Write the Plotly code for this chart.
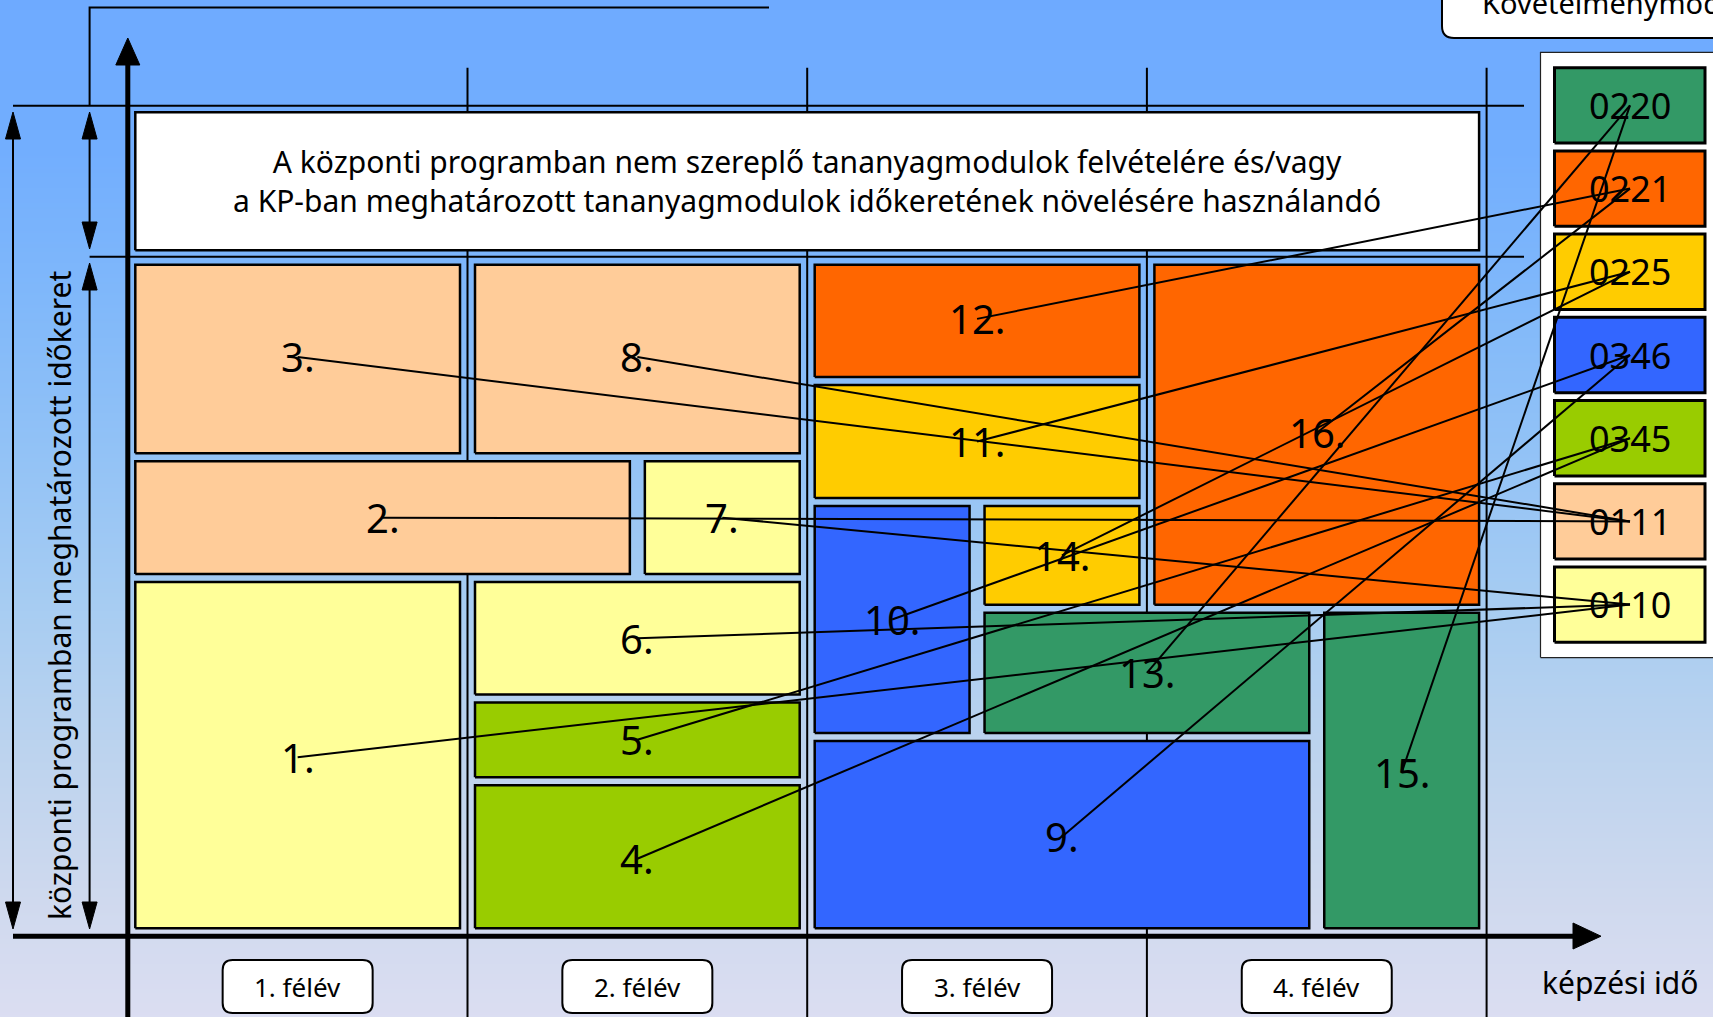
import plotly.graph_objects as go

W, H = 1713, 1017

# ---- adatok ----
semesters = ["1. félév", "2. félév", "3. félév", "4. félév"]

module_codes = ["0220", "0221", "0225", "0346", "0345", "0111", "0110"]
module_colors = ["#339966", "#ff6600", "#ffcc00", "#3366ff", "#99cc00", "#ffcc99", "#ffff99"]

# tananyagmodulok: félév-tartomány (x) és a KP időkeret százalékában (y)
block_names = ["1.", "2.", "3.", "4.", "5.", "6.", "7.", "8.",
               "9.", "10.", "11.", "12.", "13.", "14.", "15.", "16."]
block_x0 = [0, 0, 0, 1, 1, 1, 1.5, 1, 2, 2, 2, 2, 2.5, 2.5, 3.5, 3]
block_x1 = [1, 1.5, 1, 2, 2, 2, 2, 2, 3.5, 2.5, 3, 3, 3.5, 3, 4, 4]
block_y0 = [0, 52.7, 70.5, 0, 22.8, 35.0, 52.7, 70.5, 0, 29.3, 63.9, 81.7, 29.3, 48.2, 0, 48.2]
block_y1 = [52.7, 70.5, 100, 22.8, 35.0, 52.7, 70.5, 100, 29.3, 63.9, 81.7, 100, 48.2, 63.9, 48.2, 100]
block_module = ["0110", "0111", "0111", "0345", "0345", "0110", "0110", "0111",
                "0346", "0346", "0225", "0221", "0220", "0225", "0220", "0221"]

kp_total = 100      # központi program időkerete
free_top = 122.2    # szabad sáv teteje

free_text = ("A központi programban nem szereplő tananyagmodulok felvételére és/vagy<br>"
             "a KP-ban meghatározott tananyagmodulok időkeretének növelésére használandó")

# háttér színátmenet (képpont-magasság, szín)
bg_stops_px = [-10, 150, 300, 450, 600, 750, 900, 1027]
bg_colors = ["#6eaaff", "#72aefe", "#80b8fa", "#92c2f6", "#a6ccf2", "#bcd3ee", "#cfd9ee", "#dcdef2"]

# ---- képpont -> tengely átváltás ----
PX_X0, PX_SEM = 127.8, 339.7
PX_Y0, PX_UNIT = 936.2, 6.795


def sx(px):
    return (px - PX_X0) / PX_SEM


def sy(py):
    return (PX_Y0 - py) / PX_UNIT


def rect(x0, x1, y0, y1):
    return [x0, x1, x1, x0, x0], [y0, y0, y1, y1, y0]


def line_trace(xs, ys, width=2, color="black"):
    return go.Scatter(x=xs, y=ys, mode="lines", line=dict(color=color, width=width),
                      hoverinfo="skip", showlegend=False)


def poly_trace(xs, ys, fill, lw=2, lc="black"):
    return go.Scatter(x=xs, y=ys, mode="lines", fill="toself", fillcolor=fill,
                      line=dict(color=lc, width=lw), hoverinfo="skip", showlegend=False)


def rounded_path(px0, px1, py0, py1, r):
    x0, x1, xa, xb = sx(px0), sx(px1), sx(px0 + r), sx(px1 - r)
    y0, y1, ya, yb = sy(py0), sy(py1), sy(py0 + r), sy(py1 - r)
    return (f"M {xa},{y0} L {xb},{y0} Q {x1},{y0} {x1},{ya} L {x1},{yb} "
            f"Q {x1},{y1} {xb},{y1} L {xa},{y1} Q {x0},{y1} {x0},{yb} "
            f"L {x0},{ya} Q {x0},{y0} {xa},{y0} Z")


FONT = "Noto Sans, Tahoma, DejaVu Sans, sans-serif"

fig = go.Figure()

# háttér
ys_bg = [sy(p) for p in bg_stops_px][::-1]
cols_bg = bg_colors[::-1]
n = len(cols_bg)
fig.add_trace(go.Heatmap(
    x=[sx(-20), sx(W + 20)], y=ys_bg, z=[[i, i] for i in range(n)],
    colorscale=[[i / (n - 1), c] for i, c in enumerate(cols_bg)],
    zsmooth="best", showscale=False, hoverinfo="skip"))

# rácsvonalak: félévhatárok, vízszintes határok, felső keret
col_x, col_y = [], []
for k in range(1, len(semesters) + 1):
    col_x += [k, k, None]
    col_y += [sy(67.7), sy(H + 5), None]
fig.add_trace(line_trace(col_x, col_y, 2))
fig.add_trace(line_trace([sx(13), sx(1524)], [free_top, free_top], 2))
fig.add_trace(line_trace([sx(89.6), sx(1524)], [kp_total, kp_total], 2))
fig.add_trace(line_trace([sx(769), sx(89.6), sx(89.6)], [sy(7.6), sy(7.6), free_top], 2))

# szabad sáv doboza
ins_x = 7.5 / PX_SEM
ins_free = 6.5 / PX_UNIT
bx, by = rect(0 + ins_x, len(semesters) - ins_x, kp_total + ins_free, free_top - ins_free)
fig.add_trace(poly_trace(bx, by, "white", 2.5))

# tananyagmodul-blokkok
code_color = dict(zip(module_codes, module_colors))
dy_in = 4 / PX_UNIT
dy_edge = 8 / PX_UNIT
for i, name in enumerate(block_names):
    y0 = block_y0[i] + (dy_edge if block_y0[i] <= 0 else dy_in)
    y1 = block_y1[i] - (dy_edge if block_y1[i] >= kp_total else dy_in)
    bx, by = rect(block_x0[i] + ins_x, block_x1[i] - ins_x, y0, y1)
    fig.add_trace(poly_trace(bx, by, code_color[block_module[i]], 2.5))

# követelménymodul-jelmagyarázat
bx, by = rect(sx(1540.5), sx(1800), sy(657.6), sy(52.4))
fig.add_trace(poly_trace(bx, by, "white", 1.2, "#222222"))
legend_cy = {}
for i, code in enumerate(module_codes):
    top = 67.7 + 83.2 * i
    bx, by = rect(sx(1554.5), sx(1705), sy(top + 75.4), sy(top))
    fig.add_trace(poly_trace(bx, by, module_colors[i], 3))
    legend_cy[code] = sy(top + 37.7)
legend_x = sx(1630)

# összekötő vonalak
cx, cy = [], []
for i in range(len(block_names)):
    cx += [(block_x0[i] + block_x1[i]) / 2, legend_x, None]
    cy += [(block_y0[i] + block_y1[i]) / 2, legend_cy[block_module[i]], None]
fig.add_trace(line_trace(cx, cy, 2))

# tengelyek
fig.add_trace(line_trace([0, 0], [sy(60), sy(H + 5)], 5))
fig.add_trace(line_trace([sx(13), sx(1578)], [0, 0], 5))
fig.add_trace(poly_trace([sx(115.8), sx(139.8), 0, sx(115.8)],
                         [sy(65), sy(65), sy(38), sy(65)], "black", 1))
fig.add_trace(poly_trace([sx(1573), sx(1573), sx(1601), sx(1573)],
                         [sy(923), sy(949), 0, sy(923)], "black", 1))


# kettős nyilak
def double_arrow(px, py0, py1):
    fig.add_trace(line_trace([sx(px), sx(px)], [sy(py0 + 20), sy(py1 - 20)], 2))
    fig.add_trace(poly_trace([sx(px - 7.5), sx(px + 7.5), sx(px), sx(px - 7.5)],
                             [sy(py0 + 27), sy(py0 + 27), sy(py0), sy(py0 + 27)], "black", 1))
    fig.add_trace(poly_trace([sx(px - 7.5), sx(px + 7.5), sx(px), sx(px - 7.5)],
                             [sy(py1 - 27), sy(py1 - 27), sy(py1), sy(py1 - 27)], "black", 1))


double_arrow(13, 112, 929)
double_arrow(89.6, 112, 249)
double_arrow(89.6, 263, 929)

# félév feliratok dobozai + követelménymodul fejléc doboza
shapes = []
for k in range(len(semesters)):
    cpx = PX_X0 + PX_SEM * (k + 0.5)
    shapes.append(dict(type="path", xref="x", yref="y",
                       path=rounded_path(cpx - 75, cpx + 75, 960, 1013, 10),
                       fillcolor="white", line=dict(color="black", width=2)))
shapes.append(dict(type="path", xref="x", yref="y",
                   path=rounded_path(1442, 1850, -80, 38, 12),
                   fillcolor="white", line=dict(color="black", width=2)))

annotations = []
for i, name in enumerate(block_names):
    annotations.append(dict(x=(block_x0[i] + block_x1[i]) / 2, y=(block_y0[i] + block_y1[i]) / 2,
                            text=name, showarrow=False, font=dict(size=40, color="black", family=FONT)))
for i, code in enumerate(module_codes):
    annotations.append(dict(x=legend_x, y=legend_cy[code], text=code, showarrow=False,
                            font=dict(size=36, color="black", family=FONT)))
for k, s in enumerate(semesters):
    annotations.append(dict(x=k + 0.5, y=sy(987), text=s, showarrow=False,
                            font=dict(size=26, color="black", family=FONT)))
annotations.append(dict(x=len(semesters) / 2, y=(kp_total + free_top) / 2, text=free_text,
                        showarrow=False, font=dict(size=30, color="black", family=FONT)))
annotations.append(dict(x=sx(1620), y=sy(982), text="képzési idő", showarrow=False,
                        font=dict(size=30, color="black", family=FONT)))
annotations.append(dict(x=sx(59), y=sy(596), text="központi programban meghatározott időkeret",
                        textangle=-90, showarrow=False,
                        font=dict(size=30, color="black", family=FONT)))
annotations.append(dict(x=sx(1480), y=sy(8), yshift=6, text="Követelménymodul", xanchor="left",
                        showarrow=False, font=dict(size=29, color="black", family=FONT)))

fig.update_layout(
    width=W, height=H,
    margin=dict(l=0, r=0, t=0, b=0),
    paper_bgcolor="#dcdef2", plot_bgcolor="#dcdef2",
    showlegend=False,
    shapes=shapes, annotations=annotations,
    xaxis=dict(range=[sx(0), sx(W)], visible=False, fixedrange=True),
    yaxis=dict(range=[sy(H), sy(0)], visible=False, fixedrange=True),
)

fig.write_html("out.html", config={"displayModeBar": False},
               post_script="document.body.style.margin='0';document.body.style.overflow='hidden';")
